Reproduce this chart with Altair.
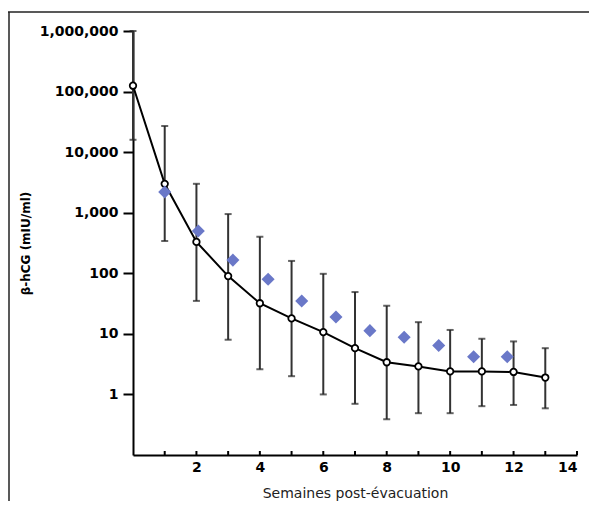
import altair as alt
import pandas as pd

# --- data ---
weeks = [0, 1, 2, 3, 4, 5, 6, 7, 8, 9, 10, 11, 12, 13]
mean_hcg = [125000, 3000, 330, 90, 32, 18, 10.7, 5.8, 3.4, 2.9, 2.4, 2.4, 2.35, 1.9]
upper_hcg = [1000000, 27000, 3000, 950, 400, 160, 98, 49, 29, 15.6, 11.6, 8.3, 7.5, 5.8]
lower_hcg = [16000, 340, 35, 8, 2.6, 2.0, 1.0, 0.7, 0.39, 0.49, 0.49, 0.64, 0.67, 0.59]

diamond_x = [1.0, 2.06, 3.15, 4.26, 5.32, 6.4, 7.47, 8.55, 9.64, 10.74, 11.8]
diamond_y = [2200, 500, 165, 80, 35, 19, 11.3, 8.8, 6.4, 4.2, 4.2]

x_tick_positions = list(range(1, 15))
x_label_values = [2, 4, 6, 8, 10, 12, 14]
y_label_values = [1, 10, 100, 1000, 10000, 100000, 1000000]

W, H = 444, 424

main = pd.DataFrame({"w": weeks, "m": mean_hcg, "hi": upper_hcg, "lo": lower_hcg})
dia = pd.DataFrame({"w": diamond_x, "v": diamond_y})
ticks_df = pd.DataFrame({"t": x_tick_positions})
dummy = pd.DataFrame({"a": [0]})

xscale = alt.Scale(domain=[0, 14], nice=False, zero=False)
yscale = alt.Scale(type="log", domain=[0.1, 1000000], nice=False)

xaxis = alt.Axis(
    values=x_label_values, ticks=False, grid=False,
    labelFont="DejaVu Sans", labelFontWeight="bold", labelFontSize=14,
    labelColor="black", labelPadding=5,
    domainColor="black", domainWidth=2,
    title="Semaines post-évacuation", titleFont="DejaVu Sans",
    titleFontWeight="normal", titleFontSize=14, titleColor="#222",
    titleY=38, titleBaseline="middle", titleX=W / 2, titleAlign="center",
)
yaxis = alt.Axis(
    values=y_label_values, format=",", grid=False,
    tickSize=10, tickWidth=2, tickColor="black",
    labelFont="DejaVu Sans", labelFontWeight="bold", labelFontSize=14,
    labelColor="black", labelPadding=5,
    domainColor="black", domainWidth=2,
    title="β-hCG (mIU/ml)", titleFont="DejaVu Sans", titleFontWeight="bold",
    titleFontSize=12, titleColor="black",
    titleX=-101, titleY=H / 2, titleAngle=270, titleAlign="center",
    titleBaseline="bottom",
)

base = alt.Chart(main)

err = base.mark_rule(color="#333333", strokeWidth=2).encode(
    x=alt.X("w:Q", scale=xscale, axis=xaxis),
    y=alt.Y("lo:Q", scale=yscale, axis=yaxis),
    y2="hi:Q",
)
cap_hi = base.mark_tick(orient="horizontal", color="#222222", thickness=2, size=7).encode(
    x="w:Q", y="hi:Q"
)
cap_lo = base.mark_tick(orient="horizontal", color="#222222", thickness=2, size=7).encode(
    x="w:Q", y="lo:Q"
)
line = base.mark_line(color="black", strokeWidth=2).encode(x="w:Q", y="m:Q")
pts = base.mark_point(
    shape="circle", filled=True, fill="white", stroke="black",
    strokeWidth=1.8, size=42, opacity=1,
).encode(x="w:Q", y="m:Q")
diamonds = alt.Chart(dia).mark_point(
    shape="diamond", filled=True, color="#6a78c8", size=170, opacity=1
).encode(x="w:Q", y="v:Q")

xticks = alt.Chart(ticks_df).mark_rule(color="black", strokeWidth=2).encode(
    x="t:Q", y=alt.value(H - 4), y2=alt.value(H)
)

frame_left = alt.Chart(dummy).mark_rule(color="#222", strokeWidth=1.5).encode(
    x=alt.value(-124), y=alt.value(-19), y2=alt.value(H + 60)
)
frame_top = alt.Chart(dummy).mark_rule(color="#222", strokeWidth=1.5).encode(
    x=alt.value(-125), x2=alt.value(W + 20), y=alt.value(-19)
)

chart = alt.layer(
    frame_left, frame_top, err, cap_hi, cap_lo, xticks, line, pts, diamonds
).properties(
    width=W, height=H,
    padding={"left": 125, "top": 23, "right": 12, "bottom": 46},
    autosize=alt.AutoSizeParams(type="none"),
    background="white",
).configure_view(strokeWidth=0)

chart.save("out.html", embed_options={"renderer": "svg", "actions": False})
